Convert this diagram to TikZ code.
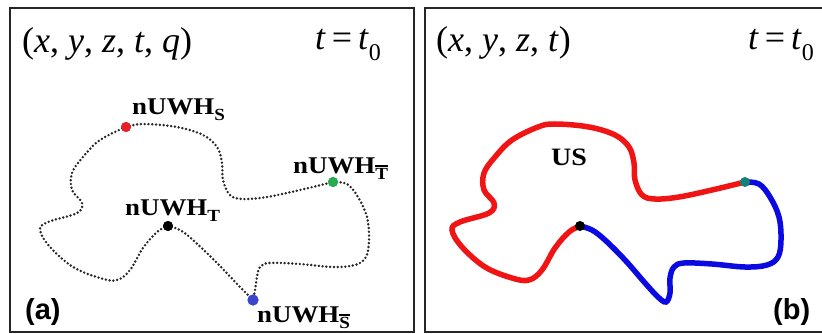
\documentclass[tikz,border=0pt]{standalone}
\usepackage{fontspec}
\setmainfont{Liberation Serif}
\newfontfamily\panelfont{Liberation Sans}
\definecolor{dotred}{RGB}{232,32,40}
\definecolor{dotgreen}{RGB}{40,170,80}
\definecolor{dotblue}{RGB}{60,70,205}
\definecolor{dotteal}{RGB}{20,130,120}
\definecolor{usred}{RGB}{240,20,20}
\definecolor{usblue}{RGB}{10,10,225}
\newcommand\lblsub[1]{\raisebox{-0.25em}{\fontsize{17}{17}\selectfont #1}}
\newcommand\lblbar[1]{\raisebox{-0.25em}{\fontsize{17}{17}\selectfont\sbox0{#1}\rlap{\rule[\dimexpr\ht0+1.2pt\relax]{\wd0}{1.6pt}}\usebox0}}
\newcommand\hn[1]{\scalebox{1.12}[1]{#1}}
\tikzset{
  dot/.style={circle,inner sep=0pt,minimum size=10pt},
  hname/.style={anchor=base west,inner sep=0pt,font=\fontsize{24}{24}\selectfont\bfseries},
  vars/.style={anchor=base west,inner sep=0pt,font=\fontsize{36}{36}\selectfont},
  tag/.style={anchor=base west,inner sep=0pt,font=\fontsize{29}{29}\selectfont\panelfont\bfseries},
  path dots/.style={line width=2.7pt,line cap=round,dash pattern=on 0pt off 3.8pt,black!85},
  us line/.style={line width=5.5pt,line cap=round}
}
\begin{document}
\begin{tikzpicture}[x=1pt,y=-1pt]
    \useasboundingbox (0,0) rectangle (822,334);
    % frames
    \draw[line width=2.4pt,black!85] (10,8) rectangle (414,332);
    \draw[line width=2.4pt,black!85] (425,8) rectangle (840,332);
    % panel (a)
    \node[vars] (vara) at (22,53) {(\textit{x}, \textit{y}, \textit{z}, \textit{t}, \textit{q})};
    \node[vars] (timea) at (315,50) {\textit{t}\,=\,\textit{t}\raisebox{-0.3em}{\fontsize{24}{24}\selectfont 0}};
    \node[dot,fill=dotred] (S) at (126,127) {};
    \node[dot,fill=dotgreen] (Tbar) at (333,182) {};
    \node[dot,fill=black] (T) at (168,226) {};
    \node[dot,fill=dotblue,minimum size=11pt] (Sbar) at (253,300) {};
    \draw[path dots] plot[smooth,tension=0.6] coordinates {(S.center) (143,124) (177,127) (203,135) (217,147) (222,163) (223,180) (230,195) (243,199) (267,197) (300,190) (Tbar.center)};
    \draw[path dots] plot[smooth,tension=0.6] coordinates {(Tbar.center) (347,184) (358,197) (367,217) (369,240) (366,257) (355,265) (333,267) (300,264) (270,263) (260,267) (257,277) (255,290) (Sbar.center)};
    \draw[path dots] plot[smooth,tension=0.6] coordinates {(Sbar.center) (240,287) (217,263) (193,240) (180,230) (T.center)};
    \draw[path dots] plot[smooth,tension=0.6] coordinates {(T.center) (157,232) (143,248) (130,270) (117,280) (100,278) (73,267) (50,247) (40,230) (48,222) (77,213) (82,203) (72,190) (72,173) (83,157) (100,140) (S.center)};
    \node[dot,fill=dotred] at (S) {};
    \node[dot,fill=dotgreen] at (Tbar) {};
    \node[dot,fill=black] at (T) {};
    \node[dot,fill=dotblue,minimum size=11pt] at (Sbar) {};
    \node[hname] (labS) at (132,115) {\hn{nUWH\lblsub{S}}};
    \node[hname] (labTbar) at (293,173) {\hn{nUWH\lblbar{T}}};
    \node[hname] (labT) at (125,215) {\hn{nUWH\lblsub{T}}};
    \node[hname] (labSbar) at (257,322) {\hn{nUWH\lblbar{S}}};
    \node[tag] (taga) at (25,319) {(a)};
    % panel (b)
    \node[vars] (varb) at (436,52) {(\textit{x}, \textit{y}, \textit{z}, \textit{t})};
    \node[vars] (timeb) at (748,50) {\textit{t}\,=\,\textit{t}\raisebox{-0.3em}{\fontsize{24}{24}\selectfont 0}};
    \begin{scope}[xshift=412pt]
        \coordinate (bS) at (126,127);
        \coordinate (bTbar) at (333,182);
        \coordinate (bT) at (168,226);
        \coordinate (bSbar) at (254,302);
        \draw[us line,usred] plot[smooth,tension=0.6] coordinates {(bT) (157,232) (143,248) (130,270) (117,280) (100,278) (73,267) (50,247) (40,230) (48,222) (77,213) (82,203) (72,190) (72,173) (83,157) (100,140) (bS) (143,124) (177,127) (203,135) (217,147) (222,163) (223,180) (230,195) (243,199) (267,197) (300,190) (bTbar)};
        \draw[us line,usblue] plot[smooth,tension=0.6] coordinates {(bTbar) (347,184) (358,197) (367,217) (369,240) (366,257) (355,265) (333,267) (300,264) (272,263) (262,267) (258,278) (258,293) (bSbar) (246,297) (233,283) (213,260) (193,240) (180,230) (bT)};
        \node[dot,fill=dotteal] (tealdot) at (bTbar) {};
        \node[dot,fill=black] (blackdot) at (bT) {};
    \end{scope}
    \node[hname,font=\fontsize{25}{25}\selectfont\bfseries] (us) at (551,166) {\hn{US}};
    \node[tag] (tagb) at (773,319) {(b)};
\end{tikzpicture}
\end{document}
